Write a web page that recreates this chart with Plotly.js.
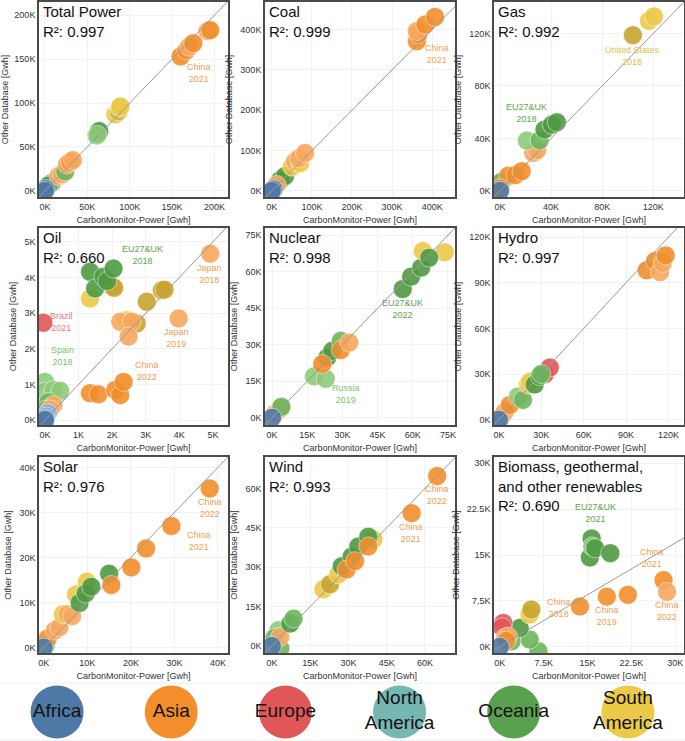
<!DOCTYPE html>
<html>
<head>
<meta charset="utf-8">
<script src="https://cdn.plot.ly/plotly-3.0.1.min.js"></script>
<style>
  html, body { margin: 0; padding: 0; background: #fff; }
  #chart { width: 685px; height: 741px; }
</style>
</head>
<body>
<div id="chart"></div>
<script>
// values are in thousand Gwh (K)

// continents in the legend
const continents = ['Africa', 'Asia', 'Europe', 'North America', 'Oceania', 'South America'];
const continentLabels = ['Africa', 'Asia', 'Europe', 'North<br>America', 'Oceania', 'South<br>America'];
const continentColors = ['#4e79a7', '#f28e2b', '#e15759', '#76b7b2', '#59a14f', '#edc948'];

// Total Power
const totalX = [8, 4, 16, 20, 24, 26, 30, 33, 61, 63, 64, 62, 83, 87, 88, 89, 160, 167, 170, 175, 192, 195, 1, 0];
const totalY = [9, 6, 17, 19, 22, 30, 33, 35, 63, 66, 68, 64, 87, 91, 94, 96, 153, 160, 164, 168, 182, 183, 2, 0];
const totalC = ['g','G','L','L','g','L','O','L','g','G','G','l','Y','D','Y','Y','O','O','L','O','L','O','A','A'];

// Coal
const coalX = [21, 33, 12, 50, 58, 71, 68, 83, 362, 365, 362, 383, 407, 4, 0];
const coalY = [27, 37, 15, 60, 73, 69, 81, 94, 371, 388, 396, 412, 431, 4, 0];
const coalC = ['G','G','L','Y','L','Y','L','L','O','O','L','O','O','A','A'];

// Gas
const gasX = [0, 1.3, 6.5, 12, 17, 26, 29, 21, 31, 34.8, 40.6, 44.5, 104, 116.6, 120.5, 0, 0];
const gasY = [6, 7, 11.5, 12, 15, 29, 31, 38.3, 38.5, 46.7, 50.5, 52.3, 118.7, 129.7, 133, 2, 0];
const gasC = ['l','g','O','O','O','L','L','l','g','G','G','G','D','Y','Y','O','A'];

// Oil
const oilX = [0, 0, 0.25, 0.45, 0.1, 0.05, 0.25, 0.15, 0.08, 0.03, 0, 0, -0.05, 1.34, 2.0, 2.06, 1.34, 1.49, 1.74, 1.85, 2.04, 3.03, 3.48, 3.56, 2.44, 2.73, 2.24, 2.58, 2.49, 1.34, 1.59, 2.09, 2.24, 2.34, 3.98, 4.92];
const oilY = [1.07, 0.8, 0.84, 0.82, 0.5, 0.3, 0.42, 0.3, 0.19, 0.1, 0.03, 0, 2.73, 3.41, 3.75, 3.71, 4.16, 3.69, 4.02, 3.9, 4.25, 3.32, 3.64, 3.66, 2.8, 2.71, 2.76, 2.76, 2.34, 0.75, 0.72, 0.84, 0.7, 1.07, 2.85, 4.67];
const oilC = ['l','l','l','l','g','g','L','L','B','B','A','A','R','Y','D','D','G','G','G','G','G','D','D','D','Y','D','L','L','L','O','O','O','O','O','L','L'];

// Nuclear
const nuclearX = [1.4, 3.6, 4, 17.9, 22.9, 23.6, 25.7, 29.3, 21.4, 29.3, 32.9, 55.7, 59.3, 63.6, 64.3, 73.6, 67, 0];
const nuclearY = [1.8, 3.8, 4.5, 17, 16, 24.8, 27.5, 31.6, 22.1, 27.8, 30.9, 52.9, 58, 61.7, 68.5, 68, 65.8, 0];
const nuclearC = ['L','L','g','l','l','G','G','g','O','O','L','G','G','G','Y','Y','G','A'];

// Hydro
const hydroX = [1, 4, 7.6, 13.5, 17, 20.6, 22, 25.3, 32.4, 36, 28.9, 30, 104.6, 110.5, 114, 116, 118, 0];
const hydroY = [1, 5, 9.6, 15.3, 13, 23.1, 25, 23.1, 29.8, 34.3, 28.7, 30, 98.2, 104.3, 97, 103, 108, 0];
const hydroC = ['g','L','O','l','g','Y','Y','G','R','R','G','g','O','O','L','L','O','A'];

// Solar
const solarX = [0.5, 0.9, 2.5, 3.6, 4.4, 5.5, 6.5, 7.4, 9.9, 8.2, 9.6, 10.9, 15, 15.5, 20.1, 23.5, 29.3, 38.1, 0];
const solarY = [0.5, 2, 3.8, 4.5, 7.4, 7.4, 7, 11.8, 14.6, 9.9, 12, 13.5, 16.4, 13.9, 17.8, 22, 27, 35.3, 0];
const solarC = ['l','O','L','L','Y','L','L','Y','Y','G','G','G','G','O','O','O','O','O','A'];

// Wind
const windX = [3.3, 2.6, 1, 3.3, 7.2, 8.5, 20.2, 22.8, 26.1, 27.4, 31.3, 33.9, 39.8, 37.8, 29.3, 32.6, 37.8, 54.8, 64.8, 0];
const windY = [-0.9, 6, 3, 3.5, 8.5, 10.4, 21.6, 23.5, 27.3, 30.4, 34.1, 37.9, 40.6, 41.6, 29.1, 32.3, 37.9, 50.6, 64.75, 0];
const windC = ['g','l','g','L','G','g','Y','D','Y','G','G','G','Y','G','O','O','O','O','O','A'];

// Biomass, geothermal, and other renewables
const bioX = [6.6, 5.1, 2, 3.4, 0.6, 0.4, 0.9, 1.4, 1.1, 5.1, 5.4, 15.4, 15.7, 15.8, 16.3, 18.9, 13.7, 18.3, 21.9, 28, 28.6, 0];
const bioY = [-0.7, 1.2, 0.9, 3.1, 3.9, 3.2, 1.5, 1.7, 1, 5.3, 6.1, 14.6, 17.7, 16.4, 16.1, 15.3, 6.6, 8.2, 8.5, 10.9, 9, 0];
const bioC = ['g','g','g','G','R','R','L','L','O','Y','D','G','G','l','G','G','O','O','O','O','L','A'];
const bioFitX = [-1, 31.5];
const bioFitY = [-0.5, 17.8];

// point labels per panel
const oilLabels = ['EU27&UK<br>2018', 'Japan<br>2018', 'Brazil<br>2021', 'Japan<br>2019', 'Spain<br>2018', 'China<br>2022'];
const oilLabX = [2.91, 4.9, 0.5, 3.93, 0.53, 3.05];
const oilLabY = [4.63, 4.11, 2.76, 2.29, 1.79, 1.38];
const oilLabC = ['e', 'o', 'r', 'o', 's', 'o'];

const bioLabels = ['EU27&UK<br>2021', 'China<br>2021', 'China<br>2018', 'China<br>2019', 'China<br>2022'];
const bioLabX = [16.4, 26, 10.1, 18.3, 28.6];
const bioLabY = [21.8, 14.5, 6.4, 5, 5.8];
const bioLabC = ['e', 'o', 'o', 'o', 'o'];

const shade = {
    A: '#4e79a7', B: '#86aedb', O: '#f28e2b', L: '#f8a85f', R: '#e15759',
    T: '#76b7b2', G: '#4f9a43', g: '#6cb65c', l: '#8ccb7a', Y: '#edc948', D: '#c9a52e'
};
const labelColor = { o: '#f5a050', e: '#5aa84a', s: '#7cc46a', u: '#e3c04a', r: '#ea7b80' };

const panels = [
    { title: 'Total Power<br>R²: 0.997', x: totalX, y: totalY, c: totalC, xr: [-7, 216], yr: [-7, 215], dt: 50,
      lab: ['China<br>2021'], labX: [182], labY: [134], labC: ['o'] },
    { title: 'Coal<br>R²: 0.999', x: coalX, y: coalY, c: coalC, xr: [-17, 457], yr: [-15, 468], dt: 100,
      lab: ['China<br>2021'], labX: [413], labY: [338], labC: ['o'] },
    { title: 'Gas<br>R²: 0.992', x: gasX, y: gasY, c: gasC, xr: [-4.7, 144], yr: [-4.7, 144], dt: 40,
      lab: ['United States<br>2018', 'EU27&UK<br>2018'], labX: [104, 21], labY: [103, 59.5], labC: ['u', 'e'] },
    { title: 'Oil<br>R²: 0.660', x: oilX, y: oilY, c: oilC, xr: [-0.18, 5.45], yr: [-0.14, 5.39], dt: 1,
      lab: oilLabels, labX: oilLabX, labY: oilLabY, labC: oilLabC },
    { title: 'Nuclear<br>R²: 0.998', x: nuclearX, y: nuclearY, c: nuclearC, xr: [-3, 78], yr: [-3, 78], dt: 15,
      lab: ['EU27&UK<br>2022', 'Russia<br>2019'], labX: [55.7, 31.7], labY: [44.5, 9.6], labC: ['e', 's'] },
    { title: 'Hydro<br>R²: 0.997', x: hydroX, y: hydroY, c: hydroC, xr: [-3.5, 131], yr: [-3.5, 126], dt: 30,
      lab: [], labX: [], labY: [], labC: [] },
    { title: 'Solar<br>R²: 0.976', x: solarX, y: solarY, c: solarC, xr: [-1.1, 42.3], yr: [-1.2, 42.3], dt: 10,
      lab: ['China<br>2022', 'China<br>2021'], labX: [38.1, 35.6], labY: [31, 23.6], labC: ['o', 'o'] },
    { title: 'Wind<br>R²: 0.993', x: windX, y: windY, c: windC, xr: [-2.7, 71.8], yr: [-2.7, 72], dt: 15,
      lab: ['China<br>2022', 'China<br>2021'], labX: [64.8, 54.5], labY: [57.5, 42.9], labC: ['o', 'o'] },
    { title: 'Biomass, geothermal,<br>and other renewables<br>R²: 0.690', x: bioX, y: bioY, c: bioC, xr: [-1, 31.5], yr: [-1, 31], dt: 7.5,
      lab: bioLabels, labX: bioLabX, labY: bioLabY, labC: bioLabC, fitX: bioFitX, fitY: bioFitY }
];

// plot area boxes in pixels
const W = 685, H = 741;
const colPx = [[39, 228], [265, 455], [494, 684]];
const rowPx = [[2, 197], [228, 425], [457, 653]];
const FONT = 'Liberation Sans, Arial, Helvetica, sans-serif';

const traces = [];
const layout = {
    width: W, height: H,
    margin: { l: 0, r: 0, t: 0, b: 0 },
    paper_bgcolor: 'white', plot_bgcolor: 'white',
    showlegend: false,
    font: { family: FONT, color: '#333' },
    annotations: [],
    shapes: []
};

panels.forEach((p, i) => {
    const n = i + 1;
    const xa = n === 1 ? 'x' : 'x' + n;
    const ya = n === 1 ? 'y' : 'y' + n;
    const col = colPx[i % 3], row = rowPx[Math.floor(i / 3)];

    const axisBase = {
        dtick: p.dt, tick0: 0, ticksuffix: 'K',
        showgrid: true, gridcolor: '#f2f2f2', gridwidth: 1,
        zeroline: false, showline: true, linecolor: '#4a4a4a', linewidth: 1.8, mirror: true,
        ticks: '', tickfont: { size: 9, color: '#333' }
    };
    layout['xaxis' + (n === 1 ? '' : n)] = Object.assign({}, axisBase, {
        domain: [col[0] / W, col[1] / W], range: p.xr, anchor: ya,
        title: { text: 'CarbonMonitor-Power [Gwh]', font: { size: 9, color: '#333' }, standoff: 6 }
    });
    layout['yaxis' + (n === 1 ? '' : n)] = Object.assign({}, axisBase, {
        domain: [1 - row[1] / H, 1 - row[0] / H], range: p.yr, anchor: xa,
        title: { text: 'Other Database [Gwh]', font: { size: 9, color: '#333' }, standoff: 6 }
    });

    traces.push({
        type: 'scatter', mode: 'markers', xaxis: xa, yaxis: ya,
        x: p.x, y: p.y,
        marker: {
            size: 19, opacity: 0.9,
            color: p.c.map(k => shade[k]),
            line: { color: 'rgba(255,255,255,0.55)', width: 1 }
        },
        hoverinfo: 'skip'
    });

    // reference line: y = x, or the fitted line for biomass
    const lo = Math.min(p.xr[0], p.yr[0]), hi = Math.max(p.xr[1], p.yr[1]);
    traces.push({
        type: 'scatter', mode: 'lines', xaxis: xa, yaxis: ya,
        x: p.fitX || [lo, hi], y: p.fitY || [lo, hi],
        line: { color: '#9a9a9a', width: 1 },
        hoverinfo: 'skip'
    });

    layout.annotations.push({
        xref: xa + ' domain', yref: ya + ' domain', x: 0.01, y: 1.005,
        xanchor: 'left', yanchor: 'top', align: 'left', showarrow: false,
        text: p.title, font: { size: 15, color: '#111', family: FONT }
    });

    p.lab.forEach((t, j) => {
        layout.annotations.push({
            xref: xa, yref: ya, x: p.labX[j], y: p.labY[j], showarrow: false,
            text: t, align: 'center', font: { size: 9, color: labelColor[p.labC[j]], family: FONT }
        });
    });
});

// legend band at the bottom, drawn as a small categorical axis
layout.xaxis10 = {
    domain: [0, 1], range: [-0.5, 5.5], type: 'category', anchor: 'y10',
    showgrid: false, zeroline: false, showline: false, showticklabels: false, ticks: ''
};
layout.yaxis10 = {
    domain: [1 - 741 / H, 1 - 683 / H], range: [-1.1, 1.1], anchor: 'x10',
    showgrid: false, zeroline: false, showline: false, showticklabels: false, ticks: ''
};
traces.push({
    type: 'scatter', mode: 'markers+text', xaxis: 'x10', yaxis: 'y10',
    x: continents, y: continents.map(() => 0),
    text: continentLabels, textposition: 'middle center',
    textfont: { size: 19, color: '#111', family: FONT },
    marker: { size: 53, color: continentColors, opacity: 1, line: { width: 0 } },
    cliponaxis: false, hoverinfo: 'skip'
});
layout.shapes.push(
    { type: 'line', xref: 'paper', yref: 'paper', x0: 0, x1: 1, y0: 1 - 683 / H, y1: 1 - 683 / H, line: { color: '#efefef', width: 1 } },
    { type: 'line', xref: 'paper', yref: 'paper', x0: 0, x1: 1, y0: 1 - 740 / H, y1: 1 - 740 / H, line: { color: '#efefef', width: 1 } }
);

Plotly.newPlot('chart', traces, layout, { displayModeBar: false, staticPlot: true });
</script>
</body>
</html>
